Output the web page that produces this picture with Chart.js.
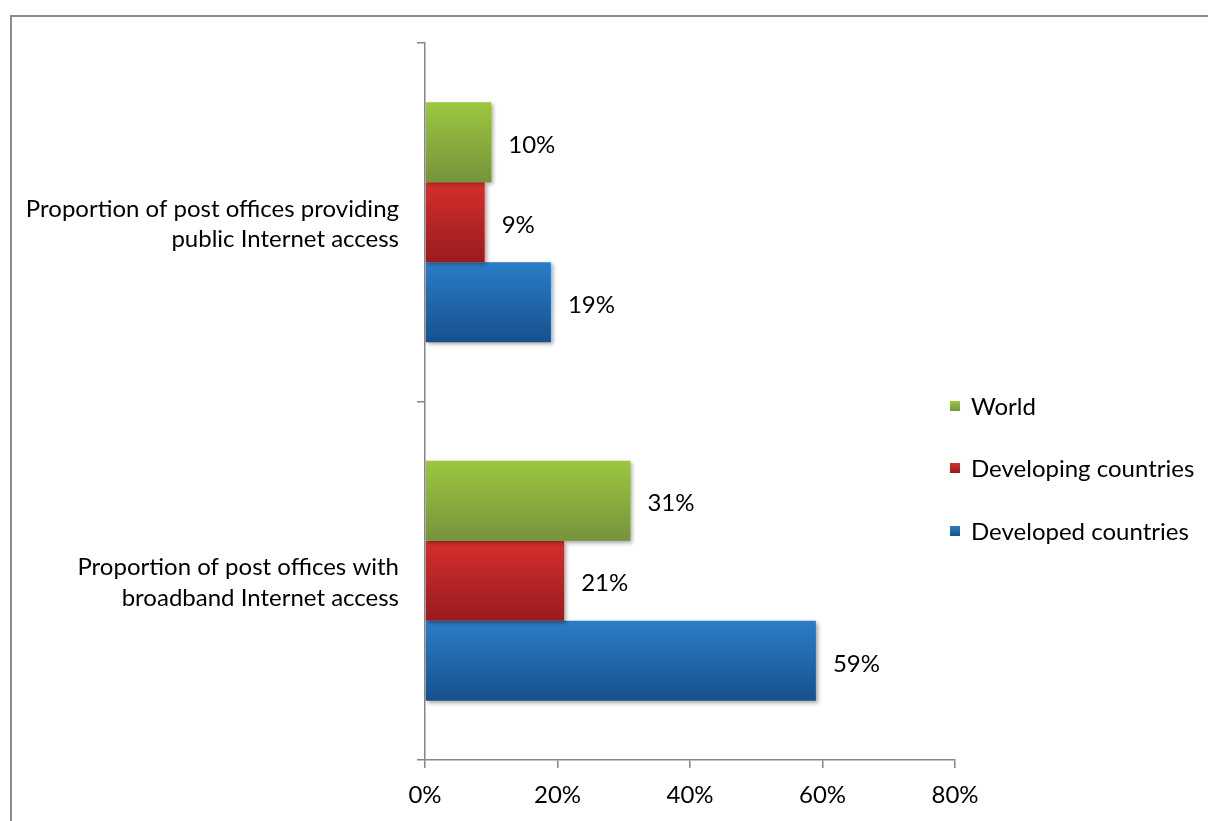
<!DOCTYPE html>
<html>
<head>
<meta charset="utf-8">
<script src="https://cdn.jsdelivr.net/npm/chart.js@4/dist/chart.umd.min.js"></script>
<style>
  html, body { margin: 0; padding: 0; background: #fff; }
  #wrap { width: 1208px; height: 821px; position: relative; }
</style>
</head>
<body>
<div id="wrap"><canvas id="c" width="1208" height="821"></canvas></div>
<script>
// Categories (multi-line labels) and series values, in percent
const categories = [
  ['Proportion of post offices providing', 'public Internet access'],
  ['Proportion of post offices with', 'broadband Internet access']
];
const seriesNames = ['World', 'Developing countries', 'Developed countries'];
const worldValues = [10, 31];
const developingValues = [9, 21];
const developedValues = [19, 59];
const xTicks = [0, 20, 40, 60, 80];

// Top / bottom colours of each series' vertical gradient
const seriesColors = [
  ['#9cc73f', '#76933c'],
  ['#d42f2c', '#9a1b1f'],
  ['#2b7dc7', '#16518d']
];

const FONT = 'Lato, "Open Sans", sans-serif';
const FSIZE = 24;

// Frame around the whole chart
const framePlugin = {
  id: 'frame',
  beforeDraw(chart) {
    const ctx = chart.ctx;
    ctx.save();
    ctx.strokeStyle = '#8c8c8c';
    ctx.lineWidth = 2;
    ctx.beginPath();
    ctx.moveTo(11, 900);
    ctx.lineTo(11, 16);
    ctx.lineTo(1300, 16);
    ctx.stroke();
    ctx.restore();
  }
};

// Per-bar vertical gradient plus a soft drop shadow
const barStylePlugin = {
  id: 'barStyle',
  beforeDatasetsDraw(chart) {
    const ctx = chart.ctx;
    chart.data.datasets.forEach((ds, di) => {
      const meta = chart.getDatasetMeta(di);
      meta.data.forEach(el => {
        const top = el.y - el.height / 2;
        const bottom = el.y + el.height / 2;
        const g = ctx.createLinearGradient(0, top, 0, bottom);
        g.addColorStop(0, seriesColors[di][0]);
        g.addColorStop(1, seriesColors[di][1]);
        el.options = Object.assign({}, el.options, { backgroundColor: g });
      });
    });
  },
  beforeDatasetDraw(chart) {
    const ctx = chart.ctx;
    ctx.save();
    ctx.shadowColor = 'rgba(0,0,0,0.35)';
    ctx.shadowBlur = 4;
    ctx.shadowOffsetX = 2;
    ctx.shadowOffsetY = 2;
  },
  afterDatasetDraw(chart) {
    chart.ctx.restore();
  }
};

// Value labels at the end of each bar
const valueLabelPlugin = {
  id: 'valueLabels',
  afterDatasetsDraw(chart) {
    const ctx = chart.ctx;
    ctx.save();
    ctx.font = FSIZE + 'px ' + FONT;
    ctx.fillStyle = '#000';
    ctx.textAlign = 'left';
    ctx.textBaseline = 'middle';
    chart.data.datasets.forEach((ds, di) => {
      const meta = chart.getDatasetMeta(di);
      meta.data.forEach((el, i) => {
        ctx.fillText(ds.data[i] + '%', el.x + 17, el.y + 3);
      });
    });
    ctx.restore();
  }
};

// Legend on the right
const legendPlugin = {
  id: 'sideLegend',
  afterDraw(chart) {
    const ctx = chart.ctx;
    ctx.save();
    ctx.font = FSIZE + 'px ' + FONT;
    ctx.textAlign = 'left';
    ctx.textBaseline = 'middle';
    const ys = [406, 468, 531];
    chart.data.datasets.forEach((ds, di) => {
      const y = ys[di];
      const g = ctx.createLinearGradient(0, y - 5, 0, y + 5);
      g.addColorStop(0, seriesColors[di][0]);
      g.addColorStop(1, seriesColors[di][1]);
      ctx.fillStyle = g;
      ctx.fillRect(950, y - 5, 10, 10);
      ctx.fillStyle = '#000';
      ctx.fillText(ds.label, 971, y + 1);
    });
    ctx.restore();
  }
};

new Chart(document.getElementById('c'), {
  type: 'bar',
  data: {
    labels: categories,
    datasets: [
      { label: seriesNames[0], data: worldValues },
      { label: seriesNames[1], data: developingValues },
      { label: seriesNames[2], data: developedValues }
    ]
  },
  options: {
    indexAxis: 'y',
    responsive: false,
    animation: false,
    events: [],
    layout: { padding: { top: 43, right: 253, bottom: 0, left: 0 } },
    datasets: {
      bar: { categoryPercentage: 0.67, barPercentage: 1.0, borderWidth: 0 }
    },
    plugins: {
      legend: { display: false },
      tooltip: { enabled: false }
    },
    scales: {
      x: {
        min: 0,
        max: 80,
        afterFit(scale) { scale.height = 61; scale.paddingLeft = 0; scale.paddingRight = 0; },
        afterBuildTicks(scale) { scale.ticks = xTicks.map(v => ({ value: v })); },
        ticks: {
          callback: v => v + '%',
          color: '#000',
          font: { family: FONT, size: FSIZE },
          padding: 13,
          maxRotation: 0
        },
        grid: { drawOnChartArea: false, tickLength: 8, color: '#868686', lineWidth: 1.5 },
        border: { color: '#868686', width: 1.5 }
      },
      y: {
        afterFit(scale) { scale.width = 425; scale.paddingTop = 0; scale.paddingBottom = 0; },
        ticks: {
          color: '#000',
          font: { family: FONT, size: FSIZE, lineHeight: 1.28 },
          padding: 18,
          labelOffset: 2
        },
        grid: { drawOnChartArea: false, tickLength: 8, color: '#868686', lineWidth: 1.5, offset: true },
        border: { color: '#868686', width: 1.5 }
      }
    }
  },
  plugins: [framePlugin, barStylePlugin, valueLabelPlugin, legendPlugin]
});
</script>
</body>
</html>
